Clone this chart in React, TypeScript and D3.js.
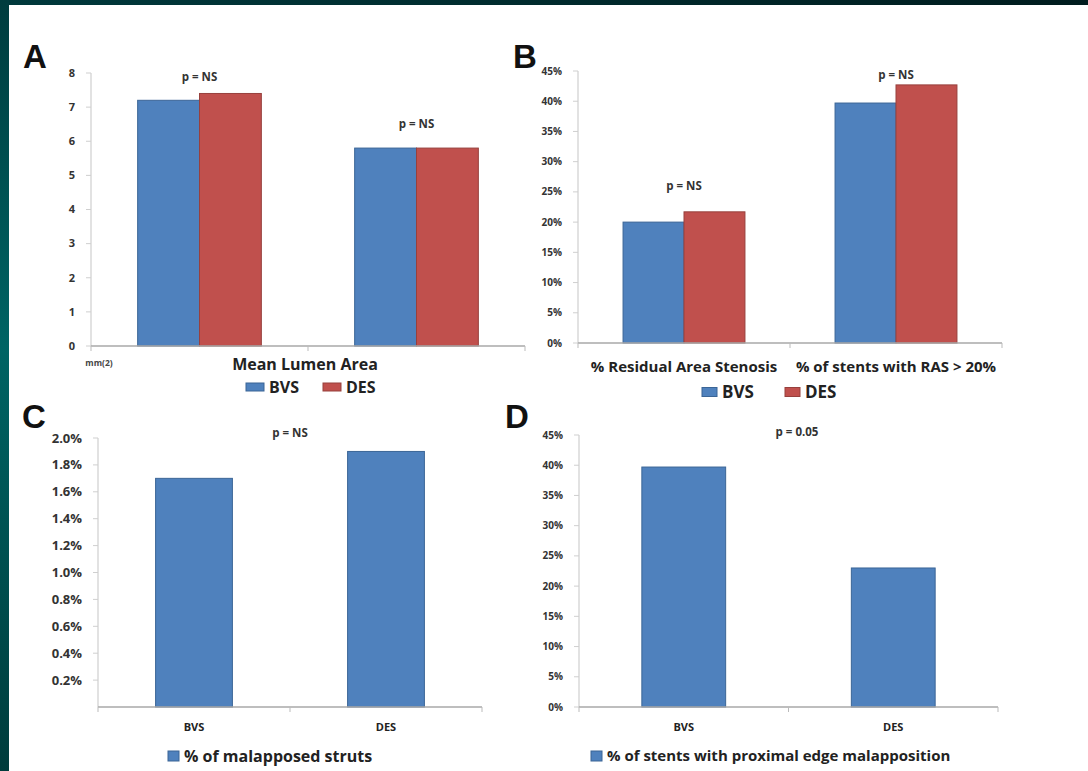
import React, { useEffect, useRef } from "react";
import * as d3 from "d3";

const W = 1088;
const H = 771;

// series shared by A and B
const seriesNames = ["BVS", "DES"];
const seriesColors = ["#4F81BD", "#C0504D"];
const seriesStrokes = ["#3b6596", "#97403d"];

// A – mean lumen area, mm²
const lumenGroups = ["", ""];
const lumenBVS = [7.2, 5.8];
const lumenDES = [7.4, 5.8];
const lumenTicks = [0, 1, 2, 3, 4, 5, 6, 7, 8];
const lumenP = ["p = NS", "p = NS"];
const lumenPAt = [7.77, 6.4];

// B – residual area stenosis
const rasCategories = ["% Residual Area Stenosis", "% of stents with RAS > 20%"];
const rasBVS = [0.2, 0.397];
const rasDES = [0.217, 0.427];
const pctTicks = [0, 0.05, 0.1, 0.15, 0.2, 0.25, 0.3, 0.35, 0.4, 0.45];
const rasP = ["p = NS", "p = NS"];
const rasPAt = [0.253, 0.437];

// C – malapposed struts
const strutCategories = ["BVS", "DES"];
const strutValues = [0.017, 0.019];
const strutTicks = [0.002, 0.004, 0.006, 0.008, 0.01, 0.012, 0.014, 0.016, 0.018, 0.02];
const strutP = "p = NS";
const strutPAt = 0.0201;

// D – proximal edge malapposition
const edgeCategories = ["BVS", "DES"];
const edgeValues = [0.397, 0.23];
const edgeP = "p = 0.05";
const edgePAt = 0.448;

const FONT = "'Open Sans', Lato, sans-serif";

type Panel = {
  letter: string;
  letterX: number;
  letterY: number;
  left: number;
  right: number;
  top: number;
  bottom: number;
  categories: string[];
  series: number[][];
  yMax: number;
  ticks: number[];
  fmt: (v: number) => string;
  tickFont: number;
  barFrac: number;
  catFont: number;
  catY: number;
  pLabels: string[];
  pAt: number[];
  pX: (x: d3.ScaleBand<string>, i: number) => number;
};

function drawPanel(svg: d3.Selection<SVGSVGElement, unknown, null, undefined>, p: Panel) {
  const g = svg.append("g");
  const x = d3
    .scaleBand<string>()
    .domain(p.categories.map((_, i) => String(i)))
    .range([p.left, p.right])
    .paddingInner(1 - p.barFrac)
    .paddingOuter((1 - p.barFrac) / 2);
  const xs = d3
    .scaleBand<string>()
    .domain(p.series.map((_, i) => String(i)))
    .range([0, x.bandwidth()]);
  const y = d3.scaleLinear().domain([0, p.yMax]).range([p.bottom, p.top]);

  // y axis
  g.append("line")
    .attr("x1", p.left).attr("x2", p.left)
    .attr("y1", p.bottom).attr("y2", y(p.yMax))
    .attr("stroke", "#cfcfcf").attr("stroke-width", 1.2);
  g.selectAll("line.yt")
    .data(p.ticks)
    .enter()
    .append("line")
    .attr("x1", p.left - 5).attr("x2", p.left)
    .attr("y1", (d) => y(d)).attr("y2", (d) => y(d))
    .attr("stroke", "#cfcfcf");
  g.selectAll("text.yl")
    .data(p.ticks)
    .enter()
    .append("text")
    .attr("x", p.left - 16)
    .attr("y", (d) => y(d))
    .attr("dy", "0.35em")
    .attr("text-anchor", "end")
    .style("font-family", FONT)
    .style("font-weight", "bold")
    .style("font-size", `${p.tickFont}px`)
    .style("fill", "#333")
    .text((d) => p.fmt(d));

  // bars
  p.series.forEach((vals, si) => {
    g.selectAll(`rect.s${si}`)
      .data(vals)
      .enter()
      .append("rect")
      .attr("x", (_, i) => (x(String(i)) ?? 0) + (xs(String(si)) ?? 0))
      .attr("width", xs.bandwidth())
      .attr("y", (d) => y(d))
      .attr("height", (d) => p.bottom - y(d))
      .attr("fill", seriesColors[si])
      .attr("stroke", seriesStrokes[si])
      .attr("stroke-width", 1);
  });

  // x axis
  const step = x.step();
  g.append("line")
    .attr("x1", p.left).attr("x2", p.right)
    .attr("y1", p.bottom).attr("y2", p.bottom)
    .attr("stroke", "#a8a8a8").attr("stroke-width", 1.6);
  g.selectAll("line.xt")
    .data(d3.range(p.categories.length + 1))
    .enter()
    .append("line")
    .attr("x1", (i) => p.left + i * step).attr("x2", (i) => p.left + i * step)
    .attr("y1", p.bottom).attr("y2", p.bottom + 5)
    .attr("stroke", "#bbb");

  g.selectAll("text.cat")
    .data(p.categories)
    .enter()
    .append("text")
    .attr("x", (_, i) => (x(String(i)) ?? 0) + x.bandwidth() / 2)
    .attr("y", p.catY)
    .attr("dy", "0.35em")
    .attr("text-anchor", "middle")
    .style("font-family", FONT)
    .style("font-weight", "bold")
    .style("font-size", `${p.catFont}px`)
    .style("fill", "#222")
    .text((d) => d);

  g.selectAll("text.p")
    .data(p.pLabels)
    .enter()
    .append("text")
    .attr("x", (_, i) => p.pX(x, i))
    .attr("y", (_, i) => y(p.pAt[i]))
    .attr("text-anchor", "middle")
    .style("font-family", FONT)
    .style("font-weight", "bold")
    .style("font-size", "11.5px")
    .style("fill", "#333")
    .text((d) => d);

  svg.append("text")
    .attr("x", p.letterX)
    .attr("y", p.letterY)
    .style("font-family", "'Liberation Sans', Arial, sans-serif")
    .style("font-weight", "bold")
    .style("font-size", "33px")
    .style("fill", "#111")
    .text(p.letter);
}

function legend(
  svg: d3.Selection<SVGSVGElement, unknown, null, undefined>,
  items: { label: string; color: string; stroke: string; x: number }[],
  y: number,
  sw: number,
  sh: number,
  font: number
) {
  items.forEach((it) => {
    svg.append("rect")
      .attr("x", it.x).attr("y", y - sh / 2)
      .attr("width", sw).attr("height", sh)
      .attr("fill", it.color).attr("stroke", it.stroke);
    svg.append("text")
      .attr("x", it.x + sw + 5).attr("y", y).attr("dy", "0.35em")
      .style("font-family", FONT).style("font-weight", "bold")
      .style("font-size", `${font}px`).style("fill", "#222")
      .text(it.label);
  });
}

export default function App() {
  const ref = useRef<SVGSVGElement | null>(null);

  useEffect(() => {
    const svg = d3.select(ref.current!);
    svg.selectAll("*").remove();

    const defs = svg.append("defs");
    const side = defs.append("linearGradient").attr("id", "side").attr("x1", 0).attr("x2", 0).attr("y1", 0).attr("y2", 1);
    side.append("stop").attr("offset", "0%").attr("stop-color", "#003c3e");
    side.append("stop").attr("offset", "45%").attr("stop-color", "#006464");
    side.append("stop").attr("offset", "100%").attr("stop-color", "#003c3c");
    const topg = defs.append("linearGradient").attr("id", "topbar");
    topg.append("stop").attr("offset", "0%").attr("stop-color", "#00393c");
    topg.append("stop").attr("offset", "100%").attr("stop-color", "#001c1e");

    svg.append("rect").attr("width", W).attr("height", H).attr("fill", "#fff");
    svg.append("rect").attr("width", W).attr("height", 5).attr("fill", "url(#topbar)");
    svg.append("rect").attr("y", 0).attr("width", 9).attr("height", H).attr("fill", "url(#side)");

    const pct0 = d3.format(".0%");
    const pct1 = d3.format(".1%");

    drawPanel(svg, {
      letter: "A", letterX: 23, letterY: 68,
      left: 91, right: 525, top: 73, bottom: 346,
      categories: lumenGroups,
      series: [lumenBVS, lumenDES],
      yMax: 8, ticks: lumenTicks, fmt: (v) => String(v), tickFont: 11,
      barFrac: 0.57, catFont: 15, catY: 363,
      pLabels: lumenP, pAt: lumenPAt,
      pX: (x, i) => (x(String(i)) ?? 0) + x.bandwidth() / 2,
    });
    svg.append("text").attr("x", 99).attr("y", 363).attr("dy", "0.35em")
      .attr("text-anchor", "middle")
      .style("font-family", FONT).style("font-weight", "bold").style("font-size", "8.5px").style("fill", "#444")
      .text("mm(2)");
    svg.append("text").attr("x", 305).attr("y", 364).attr("dy", "0.35em")
      .attr("text-anchor", "middle")
      .style("font-family", FONT).style("font-weight", "bold").style("font-size", "16px").style("fill", "#222")
      .text("Mean Lumen Area");
    legend(svg, [
      { label: seriesNames[0], color: seriesColors[0], stroke: seriesStrokes[0], x: 246 },
      { label: seriesNames[1], color: seriesColors[1], stroke: seriesStrokes[1], x: 323 },
    ], 387, 18, 8, 16);

    drawPanel(svg, {
      letter: "B", letterX: 513, letterY: 68,
      left: 578, right: 1002, top: 71, bottom: 343,
      categories: rasCategories,
      series: [rasBVS, rasDES],
      yMax: 0.45, ticks: pctTicks, fmt: pct0, tickFont: 10,
      barFrac: 0.575, catFont: 15, catY: 367,
      pLabels: rasP, pAt: rasPAt,
      pX: (x, i) => (x(String(i)) ?? 0) + x.bandwidth() / 2,
    });
    legend(svg, [
      { label: seriesNames[0], color: seriesColors[0], stroke: seriesStrokes[0], x: 702 },
      { label: seriesNames[1], color: seriesColors[1], stroke: seriesStrokes[1], x: 785 },
    ], 392, 15, 9, 17);

    drawPanel(svg, {
      letter: "C", letterX: 22, letterY: 428,
      left: 98, right: 482, top: 438, bottom: 707,
      categories: strutCategories,
      series: [strutValues],
      yMax: 0.02, ticks: strutTicks, fmt: pct1, tickFont: 13,
      barFrac: 0.4, catFont: 11, catY: 727,
      pLabels: [strutP], pAt: [strutPAt],
      pX: () => 290,
    });
    legend(svg, [{ label: "% of malapposed struts", color: seriesColors[0], stroke: seriesStrokes[0], x: 168 }], 756, 11, 10, 16);

    drawPanel(svg, {
      letter: "D", letterX: 505, letterY: 428,
      left: 579, right: 998, top: 435, bottom: 707,
      categories: edgeCategories,
      series: [edgeValues],
      yMax: 0.45, ticks: pctTicks, fmt: pct0, tickFont: 10,
      barFrac: 0.4, catFont: 11, catY: 727,
      pLabels: [edgeP], pAt: [edgePAt],
      pX: () => 797,
    });
    legend(svg, [{ label: "% of stents with proximal edge malapposition", color: seriesColors[0], stroke: seriesStrokes[0], x: 591 }], 756, 11, 10, 15);
  }, []);

  return (
    <div style={{ position: "absolute", left: 0, top: 0 }}>
      <svg ref={ref} width={W} height={H} style={{ display: "block" }}></svg>
    </div>
  );
}
